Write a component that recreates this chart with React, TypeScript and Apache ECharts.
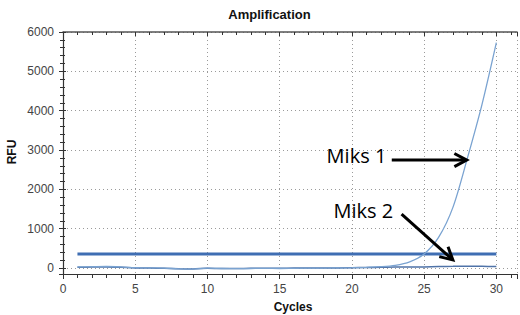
import React, { useEffect, useRef } from "react";
import * as echarts from "echarts";

const cycles = [1, 2, 3, 4, 5, 6, 7, 8, 9, 10, 11, 12, 13, 14, 15, 16, 17, 18, 19, 20, 21, 22, 23, 24, 25, 26, 27, 28, 29, 30];
const miks1 = [30, 35, 40, 30, 10, 5, 0, -20, -25, 0, -10, -15, -10, -5, -10, -5, 0, 0, 5, 10, 20, 35, 70, 160, 360, 780, 1550, 2800, 4150, 5730];
const miks2 = [20, 25, 30, 20, 5, 0, -5, -15, -20, -5, -10, -10, -5, -5, -5, 0, 0, 5, 5, 10, 15, 20, 25, 25, 30, 40, 45, 50, 45, 40];
const thresholdValue = 360;
const thresholdCycles = [1, 30];

const xMin = 0;
const xMax = 31.43;
const yMin = -150;
const yMax = 6000;

const annotationLabels = ["Miks 1", "Miks 2"];
const annotationTextAt = [
  [18.25, 2870],
  [18.72, 1463],
];
const annotationFrom = [
  [22.76, 2745],
  [23.44, 1372],
];
const annotationTo = [
  [27.95, 2745],
  [26.99, 206],
];

export default function App() {
  const ref = useRef<HTMLDivElement>(null);
  useEffect(() => {
    document.body.style.margin = "0";
    const chart = echarts.init(ref.current!, null, { renderer: "svg" });
    const axisColor = "#333";
    const gridColor = "#9a9a9a";
    const baseX = {
      type: "value" as const,
      min: xMin,
      max: xMax,
      interval: 5,
    };
    const baseY = {
      type: "value" as const,
      min: yMin,
      max: yMax,
      splitNumber: 6,
    };
    chart.setOption({
      animation: false,
      grid: { left: 63, top: 32, right: -3, bottom: 41, containLabel: false },
      xAxis: [
        {
          ...baseX,
          position: "bottom",
          axisLine: { show: true, onZero: false, lineStyle: { color: axisColor, width: 1.2 } },
          axisTick: { show: true, inside: false, length: 5, lineStyle: { color: axisColor } },
          minorTick: { show: true, splitNumber: 5, length: 4, lineStyle: { color: axisColor } },
          axisLabel: {
            color: "#444",
            fontSize: 12,
            fontFamily: "Liberation Sans, Arial, sans-serif",
            margin: 9,
            formatter: (v: number) => (Math.abs(v % 5) < 1e-6 ? String(v) : ""),
          },
          splitLine: { show: true, lineStyle: { color: gridColor, type: [1, 3], width: 1 } },
        },
        {
          ...baseX,
          position: "top",
          axisLine: { show: true, onZero: false, lineStyle: { color: "#555", width: 1.5 } },
          axisTick: { show: true, inside: true, length: 4, lineStyle: { color: axisColor } },
          minorTick: { show: true, splitNumber: 5, length: 3, lineStyle: { color: axisColor } },
          axisLabel: { show: false },
          splitLine: { show: false },
        },
      ],
      yAxis: [
        {
          ...baseY,
          position: "left",
          axisLine: { show: true, onZero: false, lineStyle: { color: axisColor, width: 1.2 } },
          axisTick: { show: true, inside: false, length: 4, lineStyle: { color: axisColor } },
          minorTick: { show: true, splitNumber: 5, length: 3, lineStyle: { color: axisColor } },
          axisLabel: {
            color: "#444",
            fontSize: 12,
            fontFamily: "Liberation Sans, Arial, sans-serif",
            margin: 9,
            formatter: (v: number) => (v >= 0 && v % 1000 === 0 ? String(v) : ""),
          },
          splitLine: { show: true, lineStyle: { color: gridColor, type: [1, 3], width: 1 } },
        },
        {
          ...baseY,
          position: "left",
          axisLine: { show: false, onZero: false },
          axisTick: { show: true, inside: true, length: 3, lineStyle: { color: axisColor } },
          minorTick: { show: true, splitNumber: 5, length: 2, lineStyle: { color: axisColor } },
          axisLabel: { show: false },
          splitLine: { show: false },
        },
      ],
      series: [
        {
          name: "Threshold",
          type: "line",
          data: thresholdCycles.map((c) => [c, thresholdValue]),
          showSymbol: false,
          lineStyle: { color: "#3f6eb3", width: 3 },
          z: 3,
        },
        {
          name: "Miks 2",
          type: "line",
          data: cycles.map((c, i) => [c, miks2[i]]),
          showSymbol: false,
          smooth: 0.3,
          lineStyle: { color: "#4f73a8", width: 1.5 },
          z: 4,
        },
        {
          name: "Miks 1",
          type: "line",
          data: cycles.map((c, i) => [c, miks1[i]]),
          showSymbol: false,
          smooth: 0.3,
          lineStyle: { color: "#7aa3d1", width: 1.3 },
          z: 5,
        },
      ],
    });

    const px = (p: number[]) => chart.convertToPixel({ gridIndex: 0 }, p) as number[];
    const elements: any[] = [
      {
        type: "text",
        x: 269.5,
        y: 14,
        style: {
          text: "Amplification",
          font: "bold 13px 'Liberation Sans', Arial, sans-serif",
          fill: "#111",
          align: "center",
          verticalAlign: "middle",
        },
      },
      {
        type: "text",
        x: 12,
        y: 152,
        rotation: Math.PI / 2,
        style: {
          text: "RFU",
          font: "bold 12px 'Liberation Sans', Arial, sans-serif",
          fill: "#111",
          align: "center",
          verticalAlign: "middle",
        },
      },
      {
        type: "text",
        x: 293,
        y: 307,
        style: {
          text: "Cycles",
          font: "bold 12px 'Liberation Sans', Arial, sans-serif",
          fill: "#111",
          align: "center",
          verticalAlign: "middle",
        },
      },
    ];
    annotationLabels.forEach((label, i) => {
      const t = px(annotationTextAt[i]);
      const a = px(annotationFrom[i]);
      const b = px(annotationTo[i]);
      const ang = Math.atan2(b[1] - a[1], b[0] - a[0]);
      const L = 14;
      const spread = (28 * Math.PI) / 180;
      const h1 = [b[0] - L * Math.cos(ang - spread), b[1] - L * Math.sin(ang - spread)];
      const h2 = [b[0] - L * Math.cos(ang + spread), b[1] - L * Math.sin(ang + spread)];
      elements.push({
        type: "text",
        x: t[0],
        y: t[1],
        z: 10,
        style: {
          text: label,
          font: "20px 'Open Sans', sans-serif",
          fill: "#000",
          align: "left",
          verticalAlign: "middle",
        },
      });
      elements.push({
        type: "line",
        z: 10,
        shape: { x1: a[0], y1: a[1], x2: b[0] - 2 * Math.cos(ang), y2: b[1] - 2 * Math.sin(ang) },
        style: { stroke: "#000", lineWidth: 3 },
      });
      elements.push({
        type: "polyline",
        z: 10,
        shape: { points: [h1, b, h2] },
        style: { stroke: "#000", lineWidth: 3, fill: null, lineJoin: "miter" },
      });
    });
    chart.setOption({ graphic: { elements } });
    return () => chart.dispose();
  }, []);
  return (
    <div
      ref={ref}
      style={{ position: "absolute", left: 0, top: 0, width: 520, height: 315 }}
    />
  );
}
